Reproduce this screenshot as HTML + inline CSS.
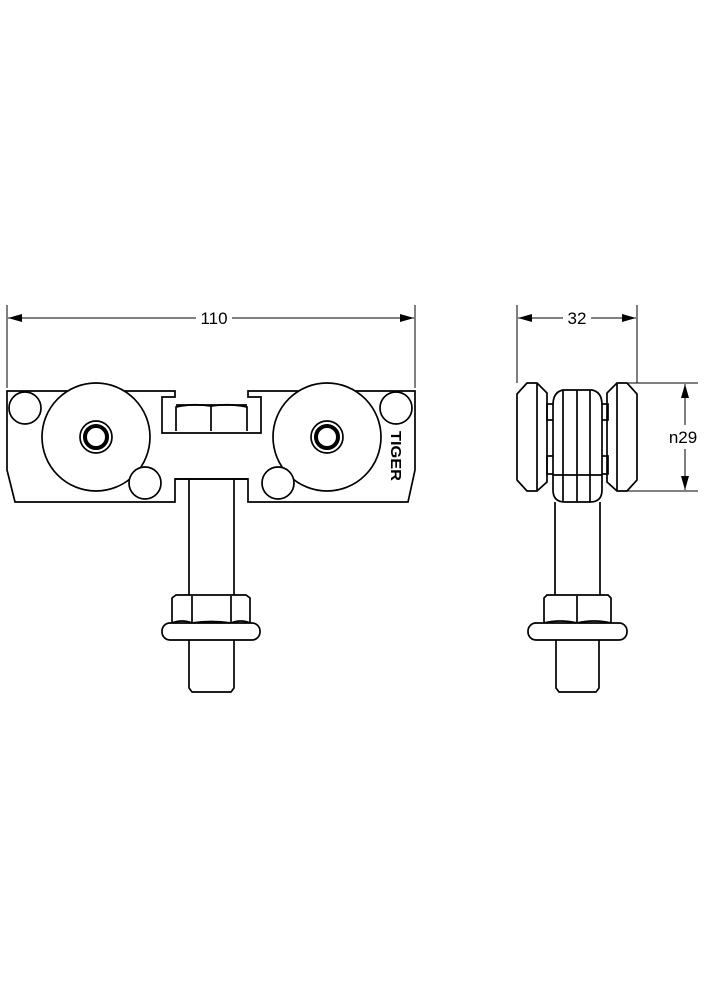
<!DOCTYPE html>
<html><head><style>html,body{margin:0;padding:0;background:#fff}svg{display:block}</style></head>
<body>
<svg width="707" height="1000" viewBox="0 0 707 1000" xmlns="http://www.w3.org/2000/svg">
<defs>
<marker id="a" markerWidth="14" markerHeight="8" refX="14" refY="4" orient="auto-start-reverse" markerUnits="userSpaceOnUse"><path d="M0,0 L14,4 L0,8 Z" fill="#000"/></marker>
</defs>
<g fill="none" stroke="#000" stroke-width="1.7">
<line x1="7" y1="305" x2="7" y2="388" stroke-width="1"/>
<line x1="415" y1="305" x2="415" y2="388" stroke-width="1"/>
<line x1="8" y1="318" x2="196" y2="318" stroke-width="1" marker-start="url(#a)"/>
<line x1="232" y1="318" x2="414" y2="318" stroke-width="1" marker-end="url(#a)"/>
<line x1="517" y1="305" x2="517" y2="383" stroke-width="1"/>
<line x1="637" y1="305" x2="637" y2="383" stroke-width="1"/>
<line x1="518" y1="318" x2="563" y2="318" stroke-width="1" marker-start="url(#a)"/>
<line x1="591" y1="318" x2="636" y2="318" stroke-width="1" marker-end="url(#a)"/>
<line x1="620" y1="383" x2="698" y2="383" stroke-width="1"/>
<line x1="620" y1="491" x2="698" y2="491" stroke-width="1"/>
<line x1="685" y1="384" x2="685" y2="425" stroke-width="1" marker-start="url(#a)"/>
<line x1="685" y1="449" x2="685" y2="490" stroke-width="1" marker-end="url(#a)"/>

<path d="M7,391 L175,391 L175,397 L162,397 L162,433 L261,433 L261,397 L248,397 L248,391 L415,391 L415,470 L408,502 L248,502 L248,479 L175,479 L175,502 L15,502 L7,470 Z" fill="#fff"/>
<path d="M176,431 L176,407 Q193,403 211,406 Q229,403 247,407 L247,431"/>
<line x1="176" y1="405" x2="247" y2="405"/>
<line x1="211" y1="405" x2="211" y2="431"/>
<circle cx="96" cy="437" r="54" fill="#fff"/>
<circle cx="327" cy="437" r="54" fill="#fff"/>
<circle cx="96" cy="437" r="16"/>
<circle cx="96" cy="437" r="11" stroke-width="4"/>
<circle cx="327" cy="437" r="16"/>
<circle cx="327" cy="437" r="11" stroke-width="4"/>
<circle cx="25" cy="408" r="16" fill="#fff"/>
<circle cx="396" cy="408" r="16" fill="#fff"/>
<circle cx="145" cy="483" r="16" fill="#fff"/>
<circle cx="278" cy="483" r="16" fill="#fff"/>
<line x1="175" y1="479" x2="248" y2="479"/>
<line x1="189" y1="479" x2="189" y2="595"/>
<line x1="234" y1="479" x2="234" y2="595"/>
<path d="M172,623 L172,598 L176,595 L246,595 L250,598 L250,623"/>
<line x1="192" y1="596" x2="192" y2="623"/>
<line x1="231" y1="596" x2="231" y2="623"/>
<path d="M172,623 Q182,619 192,623 Q211,620 231,623 Q241,619 250,623"/>
<rect x="162" y="623" width="98" height="17" rx="8" fill="#fff"/>
<path d="M189,640 L189,688 L192,692 L231,692 L234,688 L234,640"/>

<path d="M527,383 L537,383 L547,393 L547,482 L537,491 L527,491 L517,480 L517,394 Z" fill="#fff"/>
<line x1="537" y1="384" x2="537" y2="490"/>
<path d="M617,383 L627,383 L637,394 L637,480 L627,491 L617,491 L607,482 L607,393 Z" fill="#fff"/>
<line x1="617" y1="384" x2="617" y2="490"/>
<rect x="547" y="404" width="8" height="16"/>
<rect x="600" y="404" width="8" height="16"/>
<rect x="547" y="456" width="8" height="18"/>
<rect x="600" y="456" width="8" height="18"/>
<path d="M563,390 L592,390 Q602,392 602,405 L602,490 Q602,502 590,502 L565,502 Q553,502 553,490 L553,405 Q553,392 563,390 Z" fill="#fff"/>
<line x1="563" y1="390" x2="563" y2="502"/>
<line x1="577" y1="390" x2="577" y2="502"/>
<line x1="590" y1="390" x2="590" y2="502"/>
<line x1="553" y1="475" x2="602" y2="475"/>
<line x1="555" y1="502" x2="555" y2="595"/>
<line x1="600" y1="502" x2="600" y2="595"/>
<path d="M544,623 L544,598 L547,595 L608,595 L611,598 L611,623"/>
<line x1="577" y1="596" x2="577" y2="623"/>
<path d="M544,623 Q560,619 577,623 Q594,619 611,623"/>
<rect x="528" y="623" width="99" height="17" rx="8" fill="#fff"/>
<path d="M556,640 L556,688 L559,692 L596,692 L599,688 L599,640"/>
</g>
<g font-family="Liberation Sans, sans-serif" fill="#000">
<text x="214" y="324" font-size="17" text-anchor="middle">110</text>
<text x="577" y="324" font-size="17" text-anchor="middle">32</text>
<text x="683" y="443" font-size="17" text-anchor="middle">n29</text>
<text x="0" y="0" font-size="15" font-weight="bold" transform="translate(391,431) rotate(90)" textLength="50" lengthAdjust="spacingAndGlyphs">TIGER</text>
</g>
</svg>
</body></html>
